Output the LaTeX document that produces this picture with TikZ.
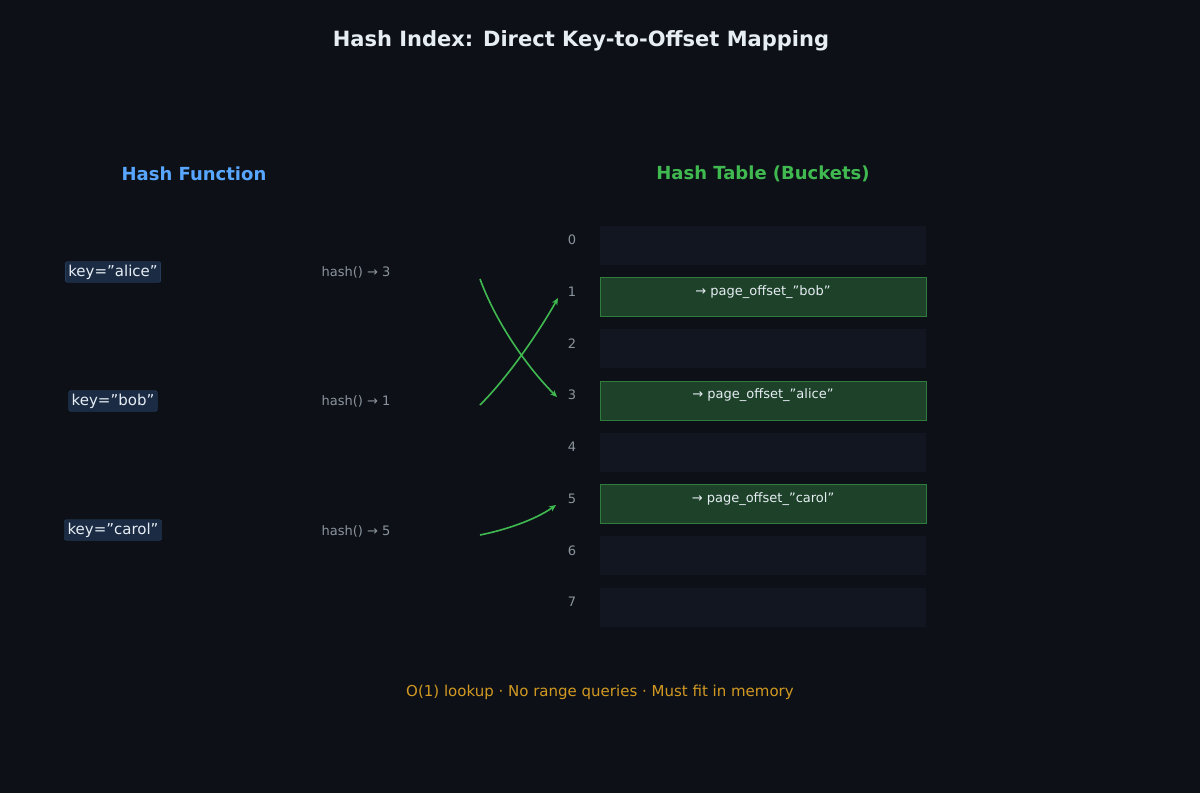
\documentclass[tikz,border=0pt]{standalone}
\usepackage{fontspec}
\setmainfont{DejaVu Sans}
\usetikzlibrary{arrows.meta}
\definecolor{bg}{HTML}{0D1117}
\definecolor{bucket}{HTML}{111620}
\definecolor{used}{HTML}{1D4229}
\definecolor{usedb}{HTML}{2E7D3C}
\definecolor{keyf}{HTML}{1B2B44}
\definecolor{keyb}{HTML}{2D4A6E}
\definecolor{arr}{HTML}{3FB950}
\definecolor{gray}{HTML}{8B949E}
\definecolor{txt}{HTML}{E6EDF3}
\definecolor{blue}{HTML}{58A6FF}
\definecolor{orange}{HTML}{D29922}
\begin{document}
\begin{tikzpicture}[x=1pt,y=-1pt,
  key/.style={fill=keyf,draw=keyb,rounded corners=2pt,text=txt,font=\fontsize{15}{18}\selectfont,inner sep=3pt},
  hsh/.style={text=gray,font=\fontsize{13}{16}\selectfont},
  idx/.style={text=gray,font=\fontsize{13}{16}\selectfont},
  emp/.style={fill=bucket,draw=none,minimum width=326pt,minimum height=39pt,inner sep=0pt},
  full/.style={fill=used,draw=usedb,minimum width=326pt,minimum height=39pt,inner sep=0pt},
  btxt/.style={text=txt,font=\fontsize{13}{16}\selectfont},
  con/.style={draw=arr,line width=1.6pt,-{Stealth[length=7pt,width=6pt]}}]
\fill[bg] (0,0) rectangle (1200,793);
\useasboundingbox (0,0) rectangle (1200,793);
\node[text=txt,font=\bfseries\fontsize{21}{25}\selectfont] (title) at (581,41) {Hash Index: Direct Key-to-Offset Mapping};
\node[text=blue,font=\bfseries\fontsize{18}{22}\selectfont] (hf) at (194,174) {Hash Function};
\node[text=arr,font=\bfseries\fontsize{18}{22}\selectfont] (ht) at (763,174) {Hash Table (Buckets)};
\foreach \i in {0,...,7}{
  \node[idx] (i\i) at (572,{240+51.75*\i}) {\i};
}
\foreach \i in {0,2,4,6,7}{
  \node[emp] (b\i) at (763,{245+51.75*\i}) {};
}
\node[full] (b1) at (763,{245+51.75}) {};
\node[full] (b3) at (763,{245+51.75*3}) {};
\node[full] (b5) at (763,{245+51.75*5}) {};
\node[btxt] (t1) at (763,{292}) {→ page\_offset\_"bob"};
\node[btxt] (t3) at (763,{395.5}) {→ page\_offset\_"alice"};
\node[btxt] (t5) at (763,{499}) {→ page\_offset\_"carol"};
\node[key] (ka) at (113,272) {key="alice"};
\node[key] (kb) at (113,401) {key="bob"};
\node[key] (kc) at (113,530) {key="carol"};
\node[hsh] (ha) at (356,272) {hash() → 3};
\node[hsh] (hb) at (356,401) {hash() → 1};
\node[hsh] (hc) at (356,531) {hash() → 5};
\coordinate (sa) at (480,279);
\coordinate (sb) at (480,405);
\coordinate (sc) at (480,535);
\coordinate (ea) at (557,397);
\coordinate (eb) at (558,298);
\coordinate (ec) at (556,505);
\draw[con] (sa) .. controls (495,320) and (525,365) .. (ea);
\draw[con] (sb) .. controls (510,375) and (540,330) .. (eb);
\draw[con] (sc) .. controls (505,530) and (535,520) .. (ec);
\node[text=orange,font=\fontsize{15}{18}\selectfont] (foot) at (600,692) {O(1) lookup · No range queries · Must fit in memory};
\end{tikzpicture}
\end{document}
